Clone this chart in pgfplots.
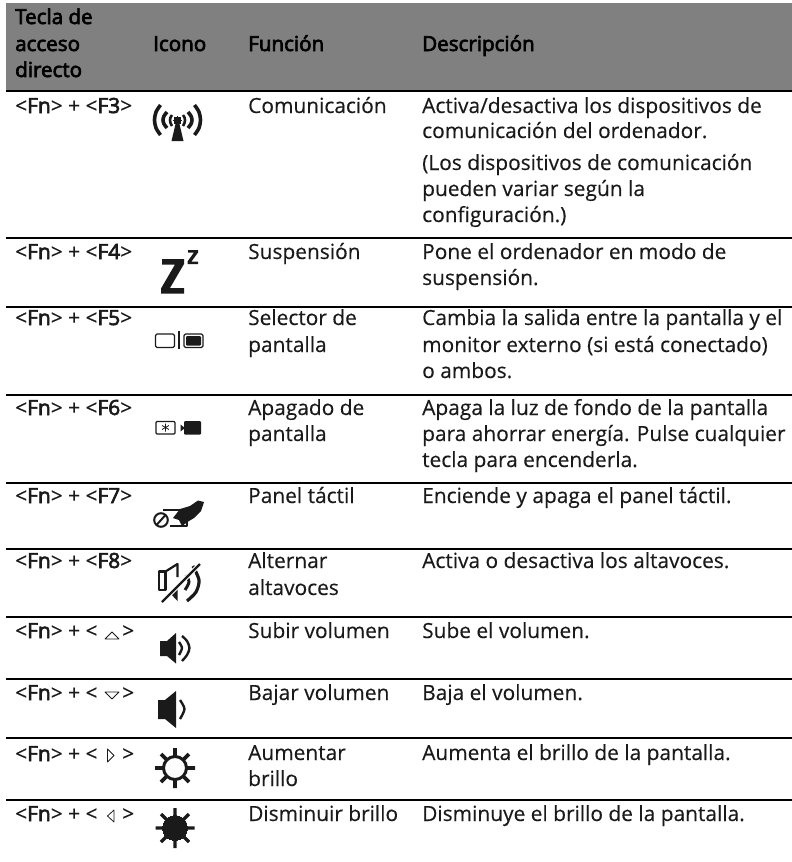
\documentclass[border=0pt]{standalone}
\usepackage{fontspec}
\usepackage{pgfplots}
\pgfplotsset{compat=1.18}
\setmainfont{Open Sans}[FakeBold=0.3]
\newfontfamily\fakeb[FakeBold=3.2]{Open Sans}
\definecolor{ink}{HTML}{1A1A1A}
\definecolor{band}{HTML}{808080}
\newcommand\T[3]{\node[anchor=base west,inner sep=0pt,text=ink,font=\fontsize{20.9}{23}\selectfont] at (axis cs:#1,#2) {#3};}
\newcommand\B[3]{\node[anchor=base west,inner sep=0pt,text=black,font=\fontsize{20.6}{23}\selectfont\fakeb] at (axis cs:#1,#2) {#3};}
\newcommand\K[2]{\T{15}{#1}{<{\fakeb Fn}> + <{\fakeb #2}>}}
\newcommand\Kt[1]{\T{15}{#1}{<{\fakeb Fn}> + <}\T{122}{#1}{>}}
\pgfplotsset{
  ic/.style={draw=ink,line width=#1,no marks,line join=round},
  ic/.default=1.2pt,
  fl/.style={fill=ink,draw=none,no marks},
  wh/.style={draw=white,line width=#1,no marks},
  arc/.style={draw=ink,line width=#1,smooth,no marks},
}
\begin{document}
\begin{tikzpicture}
\path[use as bounding box] (0,0) rectangle (792pt,862pt);
\begin{axis}[scale only axis,width=792pt,height=862pt,xmin=0,xmax=792,ymin=0,ymax=862,y dir=reverse,
  axis lines=none,ticks=none,clip=false,unbounded coords=jump]
% header band
\addplot[fill=band,draw=none,no marks] coordinates {(6,3) (792,3) (792,90) (6,90)} --cycle;
% rules
\addplot[draw=black,line width=2pt,no marks] coordinates {(6,90.5) (792,90.5)};
\addplot[draw=black,line width=2pt,no marks] coordinates {(6,237.5) (792,237.5)};
\addplot[draw=black,line width=2pt,no marks] coordinates {(6,307) (792,307)};
\addplot[draw=black,line width=2pt,no marks] coordinates {(6,395) (792,395)};
\addplot[draw=black,line width=2pt,no marks] coordinates {(6,483) (792,483)};
\addplot[draw=black,line width=2pt,no marks] coordinates {(6,548.5) (792,548.5)};
\addplot[draw=black,line width=2pt,no marks] coordinates {(6,617) (792,617)};
\addplot[draw=black,line width=2pt,no marks] coordinates {(6,679) (792,679)};
\addplot[draw=black,line width=2pt,no marks] coordinates {(6,737.5) (792,737.5)};
\addplot[draw=black,line width=2pt,no marks] coordinates {(6,800) (792,800)};
% header text
\B{15}{24}{Tecla de}\B{15}{51}{acceso}\B{15}{77}{directo}
\B{153}{51}{Icono}\B{248}{51}{Función}\B{422}{51}{Descripción}
% keys
\K{113}{F3}\K{259}{F4}\K{325}{F5}\K{415}{F6}\K{503}{F7}\K{568}{F8}
\Kt{638}\Kt{700}\Kt{761}\Kt{821}
% function
\T{248}{113}{Comunicación}
\T{248}{259}{Suspensión}
\T{248}{325}{Selector de}\T{248}{352}{pantalla}
\T{248}{415}{Apagado de}\T{248}{441}{pantalla}
\T{248}{503}{Panel táctil}
\T{248}{568}{Alternar}\T{248}{595}{altavoces}
\T{248}{638}{Subir volumen}
\T{248}{700}{Bajar volumen}
\T{248}{760}{Aumentar}\T{248}{786}{brillo}
\T{248}{821}{Disminuir brillo}
% description
\T{422}{113}{Activa/desactiva los dispositivos de}
\T{422}{138}{comunicación del ordenador.}
\T{422}{170}{(Los dispositivos de comunicación}
\T{422}{196}{pueden variar según la}
\T{422}{222}{configuración.)}
\T{422}{259}{Pone el ordenador en modo de}
\T{422}{285}{suspensión.}
\T{422}{325}{Cambia la salida entre la pantalla y el}
\T{422}{352}{monitor externo (si está conectado)}
\T{422}{378}{o ambos.}
\T{422}{415}{Apaga la luz de fondo de la pantalla}
\T{422}{441}{para ahorrar energía. Pulse cualquier}
\T{422}{467}{tecla para encenderla.}
\T{422}{503}{Enciende y apaga el panel táctil.}
\T{422}{568}{Activa o desactiva los altavoces.}
\T{422}{638}{Sube el volumen.}
\T{422}{700}{Baja el volumen.}
\T{422}{760}{Aumenta el brillo de la pantalla.}
\T{422}{821}{Disminuye el brillo de la pantalla.}
% key triangles
\addplot[ic=0.8pt] coordinates {(105,639) (119,639) (112,632)} --cycle;
\addplot[ic=0.8pt] coordinates {(105,692) (119,692) (112,699)} --cycle;
\addplot[ic=0.8pt] coordinates {(107.5,749) (107.5,762) (114,755.5)} --cycle;
\addplot[ic=0.8pt] coordinates {(114,810) (114,822) (107.5,816)} --cycle;
% wireless icon
\addplot[arc=3.6pt] coordinates {(160.5,105) (156,112) (154.5,120) (156,128) (160.5,135)};
\addplot[arc=3.6pt] coordinates {(167,112) (164,116) (163,120) (164,124) (167,128)};
\addplot[arc=2.6pt] coordinates {(172,115) (170.5,117.5) (170,120) (170.5,123) (172,126)};
\addplot[arc=3.6pt] coordinates {(194.5,105) (199,112) (200.5,120) (199,128) (194.5,135)};
\addplot[arc=3.6pt] coordinates {(188,112) (191,116) (192,120) (191,124) (188,128)};
\addplot[arc=2.6pt] coordinates {(183,115) (184.5,117.5) (185,120) (184.5,123) (183,126)};
\addplot[only marks,mark=*,mark size=3.6pt,mark options={fill=ink,draw=ink,line width=0pt}] coordinates {(177.5,120.5)};
\addplot[fl] coordinates {(176,122) (179,122) (183.5,141) (171.5,141)} --cycle;
% Z icon
\addplot[fl] coordinates {(162,259) (184,259) (184,264) (170,288) (184,288) (184,293.5) (161,293.5) (161,288.5) (175,264.5) (162,264.5)} --cycle;
\addplot[fl] coordinates {(188,250) (198,250) (198,252.5) (191.5,261.5) (198,261.5) (198,264) (187.5,264) (187.5,261.5) (194,252.5) (188,252.5)} --cycle;
% display select icon
\addplot[ic=1.2pt,rounded corners=1.5pt] coordinates {(155.5,334) (174.5,334) (174.5,347.5) (155.5,347.5)} --cycle;
\addplot[ic=1.2pt] coordinates {(179,331) (179,349)};
\addplot[ic=1.2pt,rounded corners=1.5pt] coordinates {(184,334) (203,334) (203,347.5) (184,347.5)} --cycle;
\addplot[fl,rounded corners=1pt] coordinates {(186,336) (201,336) (201,345.5) (186,345.5)} --cycle;
% display off icon
\addplot[ic=1.2pt,rounded corners=1pt] coordinates {(156,421.5) (175,421.5) (175,434) (156,434)} --cycle;
\addplot[only marks,mark=asterisk,mark size=4pt,mark options={draw=ink,line width=0.8pt}] coordinates {(165.5,427.5)};
\addplot[fl] coordinates {(180.5,424.5) (180.5,431.5) (185,428)} --cycle;
\addplot[fl,rounded corners=1pt] coordinates {(184,421) (201,421) (201,434.5) (184,434.5)} --cycle;
% touchpad off icon
\addplot[only marks,mark=o,mark size=6.8pt,mark options={draw=ink,line width=2pt}] coordinates {(161,520)};
\addplot[ic=2pt] coordinates {(156.5,525) (165.5,515)};
\addplot[ic=1.2pt] coordinates {(163,510) (182,510)};
\addplot[ic=1.2pt] coordinates {(170,526) (187,526) (187,521)};
\addplot[fl] coordinates {(173,518) (180,509) (190,506) (198,500.5) (204,502) (201,511) (194,518) (189,521) (182,526) (179,520)} --cycle;
% mute icon
\addplot[ic=2.2pt] coordinates {(159,571.5) (165.5,571.5) (165.5,590) (159,590)} --cycle;
\addplot[ic=2.2pt] coordinates {(165.5,571.5) (177.5,564) (177.5,577)};
\addplot[fl] coordinates {(177.5,587) (177.5,601) (170,593)} --cycle;
\addplot[arc=3pt] coordinates {(186,575) (189,582) (185,590)};
\addplot[arc=3.2pt] coordinates {(193,566) (199,580) (196,592) (187,601)};
\addplot[wh=4.5pt] coordinates {(162,602) (200,564)};
\addplot[ic=2.4pt] coordinates {(162,602) (200,564)};
% volume up
\addplot[fl] coordinates {(160,641) (167,641) (176,633) (176,663.5) (167,656) (160,656)} --cycle;
\addplot[arc=2.4pt] coordinates {(179,642) (182,648) (179,655)};
\addplot[arc=2.4pt] coordinates {(182,636) (187,641) (189.5,648) (187,655) (182,661)};
% volume down
\addplot[fl] coordinates {(158,700) (165,700) (176,691) (176,728) (165,719) (158,719)} --cycle;
\addplot[arc=2.4pt] coordinates {(180,700) (184.5,709) (180,719)};
% bright sun
\addplot[only marks,mark=o,mark size=11.5pt,mark options={draw=ink,line width=3pt}] coordinates {(175,768)};
\addplot[ic=3.6pt] coordinates {(175,748) (175,756) (nan,nan) (175,780) (175,788) (nan,nan) (155,768) (163,768) (nan,nan) (187,768) (195,768) (nan,nan) (161,754) (167,760) (nan,nan) (189,754) (183,760) (nan,nan) (161,782) (167,776) (nan,nan) (189,782) (183,776)};
% dim sun
\addplot[only marks,mark=*,mark size=12.5pt,mark options={fill=ink,draw=ink,line width=0pt}] coordinates {(175,828)};
\addplot[ic=3.4pt] coordinates {(175,808) (175,816) (nan,nan) (175,840) (175,848) (nan,nan) (155.5,828) (163,828) (nan,nan) (187,828) (194.5,828) (nan,nan) (161,814) (167,820) (nan,nan) (189,814) (183,820) (nan,nan) (161,842) (167,836) (nan,nan) (189,842) (183,836)};
\end{axis}
\end{tikzpicture}
\end{document}
